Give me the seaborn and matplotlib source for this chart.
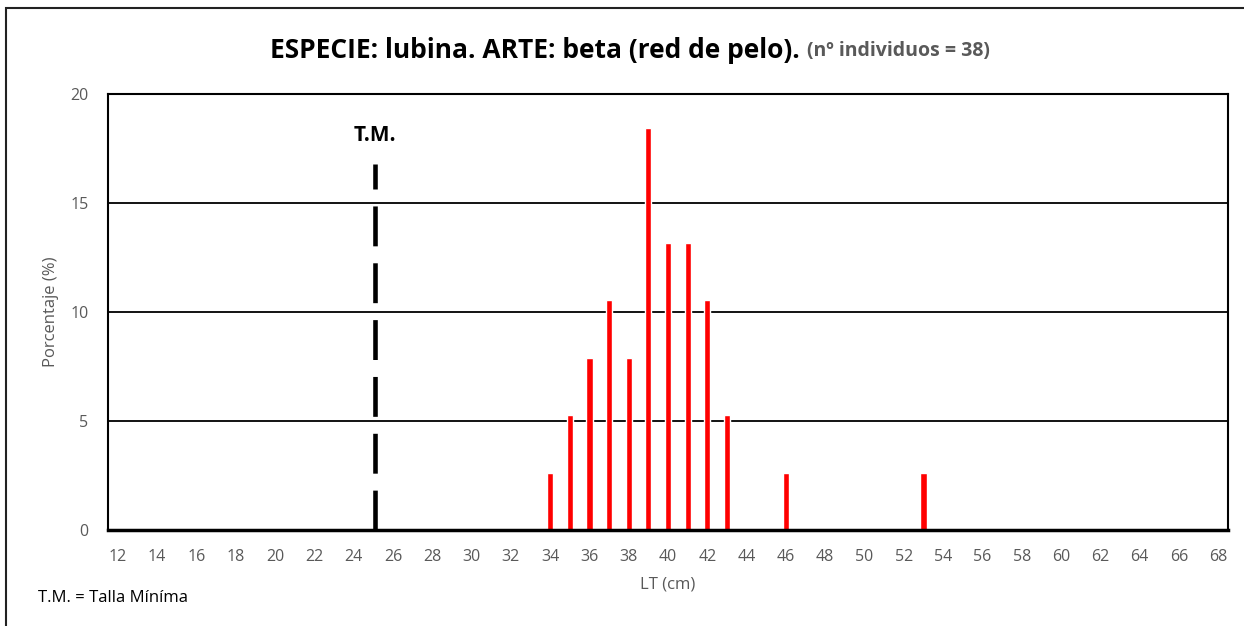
import matplotlib

matplotlib.use("Agg")

import matplotlib.pyplot as plt
import matplotlib.patches as mpatches
import pandas as pd
import seaborn as sns

# datos
LONGITUDES = [34, 35, 36, 37, 38, 39, 40, 41, 42, 43, 46, 53]
PORCENTAJES = [2.63, 5.26, 7.89, 10.53, 7.89, 18.42, 13.16, 13.16, 10.53, 5.26, 2.63, 2.63]
CATEGORIAS = list(range(12, 69))
ETIQUETAS_X = [str(c) if c % 2 == 0 else "" for c in CATEGORIAS]
TALLA_MINIMA = 25
TALLA_MINIMA_ALTO = 16.8

TITULO = "ESPECIE: lubina. ARTE: beta (red de pelo)."
SUBTITULO = "(nº individuos = 38)"
GRIS = "#595959"


def main():
    sns.set_theme(style="white")
    plt.rcParams["font.family"] = ["Open Sans", "DejaVu Sans"]

    df = pd.DataFrame({"lt": LONGITUDES, "pct": PORCENTAJES})

    fig = plt.figure(figsize=(12.44, 6.26), dpi=100)
    ax = fig.add_axes([108 / 1244, 1 - 530 / 626, 1120 / 1244, 436 / 626])

    sns.barplot(data=df, x="lt", y="pct", order=CATEGORIAS, color="#ff0000",
                saturation=1, width=0.32, ax=ax)

    # linea de talla minima (desde abajo para que el patron empiece en 0)
    pos_tm = CATEGORIAS.index(TALLA_MINIMA) + 0.1
    ax.plot([pos_tm, pos_tm], [0, TALLA_MINIMA_ALTO], color="black", lw=3.3,
            linestyle=(0, (8.7, 3.7)), solid_capstyle="butt", zorder=3)
    ax.text(pos_tm, 18.1, "T.M.", ha="center", va="center",
            fontsize=15, fontweight="bold", color="black")

    ax.set_ylim(0, 20)
    ax.set_xlim(-0.5, len(CATEGORIAS) - 0.5)
    ax.set_yticks([0, 5, 10, 15, 20])
    ax.set_xticks(range(len(CATEGORIAS)))
    ax.set_xticklabels(ETIQUETAS_X)
    ax.tick_params(axis="both", length=0, labelsize=11.5, labelcolor=GRIS)
    ax.tick_params(axis="x", pad=14)
    ax.tick_params(axis="y", pad=14)

    for y in [5, 10, 15]:
        ax.axhline(y, color="black", lw=1.3, zorder=0)
    for side in ["top", "left", "right"]:
        ax.spines[side].set_color("black")
        ax.spines[side].set_linewidth(1.5)
    ax.spines["bottom"].set_color("black")
    ax.spines["bottom"].set_linewidth(2.5)

    ax.set_xlabel("LT (cm)", fontsize=12, color=GRIS, labelpad=8)
    ax.set_ylabel("Porcentaje (%)", fontsize=12, color=GRIS, labelpad=8)

    # titulo en dos partes
    t1 = fig.text(0.5, 1 - 51 / 626, TITULO, ha="left", va="center",
                  fontsize=19, fontweight="bold", color="black")
    t2 = fig.text(0.5, 1 - 51 / 626, SUBTITULO, ha="left", va="center",
                  fontsize=14, fontweight="bold", color=GRIS)
    fig.canvas.draw()
    r = fig.canvas.get_renderer()
    w1 = t1.get_window_extent(r).width
    w2 = t2.get_window_extent(r).width
    gap = 7
    x0 = 630 - (w1 + gap + w2) / 2
    t1.set_x(x0 / 1244)
    t2.set_x((x0 + w1 + gap) / 1244)

    fig.text(38 / 1244, 1 - 598 / 626, "T.M. = Talla Míníma", ha="left",
             va="center", fontsize=12, color="black")

    # marco exterior
    fig.patches.append(mpatches.Rectangle((6 / 1244, -0.1), 1.2, 1.1 - 8 / 626,
                                          transform=fig.transFigure, fill=False,
                                          edgecolor="#222222", lw=1.5))

    fig.savefig("out.png", dpi=100)
    plt.close(fig)


if __name__ == "__main__":
    main()
